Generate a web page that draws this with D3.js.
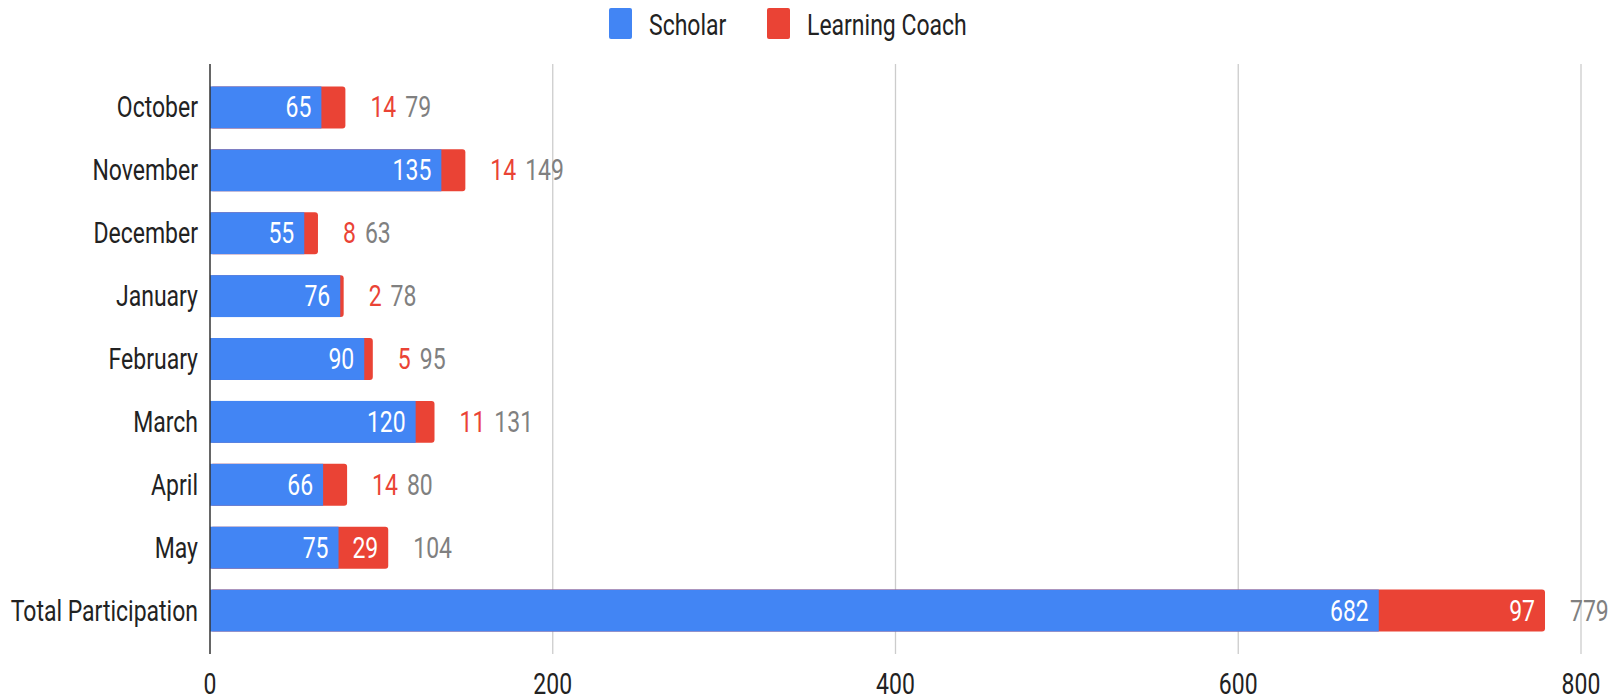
<!DOCTYPE html>
<html><head><meta charset="utf-8">
<script src="https://cdn.jsdelivr.net/npm/d3@7"></script>
<style>body{margin:0;background:#fff}svg{display:block}text{font-family:Roboto,"Noto Sans",sans-serif}</style>
</head><body><svg id="c" width="1623" height="698"></svg>
<script>
const categories = ["October","November","December","January","February","March","April","May","Total Participation"];
const scholar = [65,135,55,76,90,120,66,75,682];
const coach = [14,14,8,2,5,11,14,29,97];
const ticks = [0,200,400,600,800];
const seriesNames = ["Scholar","Learning Coach"];
const colors = ["#4285F4","#EA4335"];

const svg = d3.select("#c");
const FS = 23, SY = 1.25;
const x = d3.scaleLinear().domain([0,800]).range([210,1581]);
const y = d3.scaleBand().domain(categories).range([64,654]).paddingInner(0.333).paddingOuter(0.357);

function txt(px, py, s, fill, anchor){
  const g = svg.append("g").attr("transform", `translate(${px},${py}) scale(1,${SY})`);
  return g.append("text").attr("font-size",FS).attr("fill",fill).attr("text-anchor",anchor||"start").text(s);
}

// gridlines
svg.append("g").selectAll("line").data(ticks.filter(t=>t>0)).join("line")
  .attr("x1",d=>x(d)).attr("x2",d=>x(d)).attr("y1",64).attr("y2",654)
  .attr("stroke","#cccccc").attr("stroke-width",1.3);

// bars
categories.forEach((c,i)=>{
  const total = scholar[i]+coach[i];
  svg.append("rect").attr("x",x(0)).attr("y",y(c)).attr("width",x(total)-x(0)).attr("height",y.bandwidth())
    .attr("rx",3).attr("fill",colors[1]);
  svg.append("rect").attr("x",x(0)).attr("y",y(c)).attr("width",x(scholar[i])-x(0)).attr("height",y.bandwidth())
    .attr("fill",colors[0]);
});

// axis line
svg.append("line").attr("x1",x(0)).attr("x2",x(0)).attr("y1",64).attr("y2",654).attr("stroke","#333").attr("stroke-width",1.5);

// category labels
categories.forEach(c=>{ txt(198, y(c)+y.bandwidth()/2+10, c, "#222", "end"); });

// tick labels
ticks.forEach(t=>{ txt(x(t), 694, t, "#222", "middle"); });

// value labels
categories.forEach((c,i)=>{
  const base = y(c)+y.bandwidth()/2+10;
  const total = scholar[i]+coach[i];
  txt(x(scholar[i])-10, base, scholar[i], "#fff", "end");
  const segW = x(total)-x(scholar[i]);
  if (segW > 45) {
    txt(x(total)-10, base, coach[i], "#fff", "end");
    txt(x(total)+25, base, total, "#808080", "start");
  } else {
    const t = txt(x(total)+25, base, coach[i], colors[1], "start");
    const w = t.node().getComputedTextLength();
    txt(x(total)+25+w+9, base, total, "#808080", "start");
  }
});

// legend
const legX = [609, 767];
seriesNames.forEach((n,i)=>{
  svg.append("rect").attr("x",legX[i]).attr("y",8).attr("width",23).attr("height",31).attr("rx",2).attr("fill",colors[i]);
  txt(legX[i]+40, 35, n, "#222", "start");
});
</script></body></html>
